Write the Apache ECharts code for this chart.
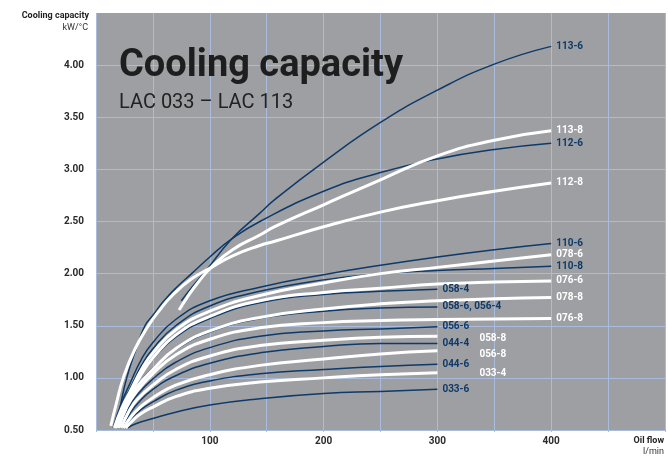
<!DOCTYPE html>
<html><head><meta charset="utf-8">
<script src="https://cdn.jsdelivr.net/npm/echarts@6/dist/echarts.min.js"></script>
<style>html,body{margin:0;padding:0;background:#fff}#c{width:668px;height:457px}</style>
</head><body><div id="c"></div>
<script>
// ---- data (flow l/min, capacity kW/°C) ----
const xTickLabels = [100, 200, 300, 400];
const yTickLabels = [0.5, 1, 1.5, 2, 2.5, 3, 3.5, 4];

// dark-blue curves
const c113_6 = [[75,1.74],[85,1.88],[96,2.02],[119,2.33],[144,2.58],[157,2.71],[200,3.07],[250,3.45],[300,3.76],[350,4.01],[400,4.18]];
const c112_6 = [[18,0.52],[22,0.76],[27,1.0],[35,1.27],[43,1.5],[50,1.6],[59,1.73],[70,1.86],[84,2.0],[100,2.16],[119,2.33],[144,2.5],[200,2.79],[250,2.97],[300,3.1],[350,3.19],[400,3.25]];
const c110_6 = [[15,0.52],[22,0.75],[30,0.95],[40,1.18],[50,1.34],[70,1.56],[100,1.74],[144,1.87],[200,1.99],[250,2.08],[300,2.16],[350,2.23],[400,2.29]];
const c110_8 = [[16,0.52],[23,0.75],[30,0.9],[40,1.12],[50,1.28],[70,1.5],[100,1.69],[144,1.83],[200,1.94],[250,2.0],[300,2.03],[350,2.05],[400,2.07]];
const c058_4 = [[18,0.52],[25,0.75],[32,0.92],[40,1.05],[50,1.18],[70,1.39],[100,1.57],[144,1.72],[200,1.80],[250,1.83],[300,1.85]];
const c058_6 = [[19,0.52],[26,0.72],[33,0.87],[40,0.98],[50,1.09],[70,1.27],[100,1.44],[144,1.57],[200,1.64],[250,1.67],[300,1.68]];
const c056_6 = [[21,0.52],[28,0.7],[35,0.82],[50,0.99],[70,1.15],[100,1.29],[144,1.40],[200,1.45],[250,1.47],[300,1.49]];
const c044_4 = [[23,0.52],[30,0.66],[37,0.76],[50,0.89],[70,1.02],[100,1.14],[144,1.24],[200,1.30],[250,1.33],[300,1.33]];
const c044_6 = [[25,0.52],[32,0.62],[40,0.7],[50,0.77],[70,0.88],[100,0.97],[144,1.04],[200,1.08],[250,1.11],[300,1.13]];
const c033_6 = [[28,0.52],[35,0.56],[50,0.61],[70,0.67],[100,0.74],[144,0.8],[200,0.85],[250,0.87],[300,0.89]];

// white curves
const c113_8 = [[73,1.65],[80,1.77],[90,1.92],[102,2.07],[120,2.23],[144,2.37],[157,2.45],[200,2.66],[250,2.90],[300,3.13],[350,3.28],[400,3.37]];
const c112_8 = [[13,0.54],[18,0.76],[24,1.0],[34,1.27],[46,1.5],[56,1.65],[67,1.79],[84,1.95],[100,2.05],[120,2.17],[144,2.27],[157,2.31],[200,2.45],[250,2.59],[300,2.70],[350,2.79],[400,2.87]];
const c078_6 = [[16,0.52],[23,0.72],[30,0.87],[40,1.08],[50,1.24],[70,1.46],[100,1.64],[144,1.79],[200,1.91],[250,2.0],[300,2.06],[350,2.12],[400,2.18]];
const c076_6 = [[17,0.52],[24,0.72],[30,0.84],[40,1.04],[50,1.19],[70,1.41],[100,1.59],[144,1.74],[200,1.82],[250,1.86],[300,1.90],[350,1.92],[400,1.93]];
const c078_8 = [[19,0.52],[26,0.72],[35,0.9],[50,1.08],[70,1.28],[100,1.45],[144,1.58],[200,1.66],[250,1.71],[300,1.74],[350,1.76],[400,1.77]];
const c076_8 = [[20,0.52],[27,0.72],[35,0.86],[50,1.04],[70,1.22],[100,1.37],[144,1.48],[200,1.53],[250,1.55],[300,1.56],[350,1.565],[400,1.57]];
const c058_8 = [[22,0.52],[29,0.68],[36,0.79],[50,0.93],[70,1.08],[100,1.21],[144,1.31],[200,1.36],[250,1.39],[300,1.40]];
const c056_8 = [[24,0.52],[31,0.63],[38,0.71],[50,0.81],[70,0.93],[100,1.03],[144,1.12],[200,1.18],[250,1.23],[300,1.26]];
const c033_4 = [[26,0.52],[33,0.6],[40,0.66],[50,0.72],[70,0.82],[100,0.9],[144,0.96],[200,1.0],[250,1.03],[300,1.05]];

const darkCurves = [
  ['113-6', c113_6], ['112-6', c112_6], ['110-6', c110_6], ['110-8', c110_8],
  ['058-4', c058_4], ['058-6, 056-4', c058_6], ['056-6', c056_6],
  ['044-4', c044_4], ['044-6', c044_6], ['033-6', c033_6]
];
const whiteCurves = [
  ['113-8', c113_8], ['112-8', c112_8], ['078-6', c078_6], ['076-6', c076_6],
  ['078-8', c078_8], ['076-8', c076_8], ['058-8', c058_8], ['056-8', c056_8], ['033-4', c033_4]
];

// ---- styling ----
const DARK = '#0e3a69';
const FONT = 'Roboto';
const labelOffsets = { '058-8': [37, 2], '056-8': [37, 4], '033-4': [37, 1] };

function mk(name, data, color, width) {
  return {
    type: 'line', name: name, data: data, showSymbol: false, symbol: 'none',
    smooth: 0.5, silent: true,
    lineStyle: { color: color, width: width },
    endLabel: {
      show: true, formatter: name, color: color, fontFamily: FONT,
      fontWeight: 'bold', fontSize: 10, distance: 5,
      offset: labelOffsets[name] || [0, 0]
    }
  };
}
const series = [];
darkCurves.forEach(c => series.push(mk(c[0], c[1], DARK, 1.5)));
whiteCurves.forEach(c => series.push(mk(c[0], c[1], '#ffffff', 3)));

const chart = echarts.init(document.getElementById('c'), null, { renderer: 'canvas' });
function txt(x, y, text, font, fill, align) {
  return { type: 'text', x: x, y: y, z: 100, style: { text: text, fill: fill, font: font, align: align, verticalAlign: 'middle' } };
}
chart.setOption({
  animation: false,
  backgroundColor: '#ffffff',
  grid: { left: 96, right: 3, top: 13, bottom: 27, show: true, backgroundColor: '#9e9fa3', borderWidth: 0 },
  xAxis: {
    type: 'value', min: 0, max: 500, interval: 50,
    axisLine: { show: false },
    axisTick: { show: true, length: 2, lineStyle: { color: '#a9bcdd' } },
    splitLine: { show: true, lineStyle: { color: '#a9bcdd', width: 1 } },
    axisLabel: {
      margin: 6, fontFamily: FONT, fontWeight: 'bold', fontSize: 10, color: '#2b2b2b',
      formatter: v => xTickLabels.indexOf(v) >= 0 ? String(v) : ''
    }
  },
  yAxis: {
    type: 'value', min: 0.5, max: 4.5, interval: 0.5,
    axisLine: { show: false }, axisTick: { show: false },
    splitLine: { show: true, showMaxLine: false, lineStyle: { color: '#a9bcdd', width: 1 } },
    axisLabel: {
      margin: 12, fontFamily: FONT, fontWeight: 'bold', fontSize: 10, color: '#2b2b2b',
      formatter: v => yTickLabels.indexOf(v) >= 0 ? v.toFixed(2) : ''
    }
  },
  graphic: [
    txt(89, 16, 'Cooling capacity', 'bold 9px ' + FONT, '#222', 'right'),
    txt(88, 28, 'kW/°C', '9px ' + FONT, '#333', 'right'),
    txt(664, 441, 'Oil flow', 'bold 9px ' + FONT, '#222', 'right'),
    txt(664, 452, 'l/min', '9px ' + FONT, '#333', 'right'),
    txt(119, 66, 'Cooling capacity', 'bold 38px ' + FONT, '#1e1e1e', 'left'),
    txt(119, 103, 'LAC 033 \u2013 LAC 113', '20px ' + FONT, '#222', 'left')
  ],
  series: series
});
</script></body></html>
